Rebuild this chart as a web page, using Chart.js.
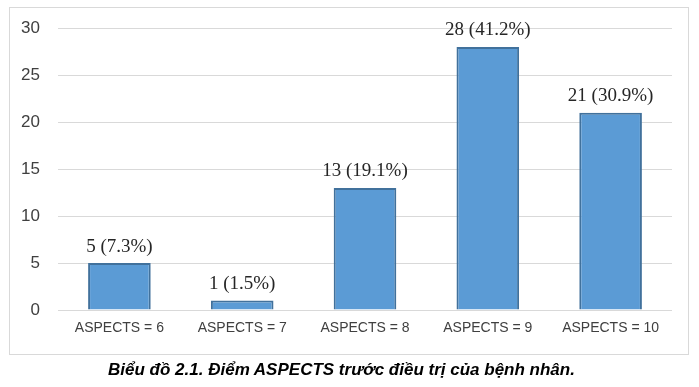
<!DOCTYPE html>
<html><head><meta charset="utf-8">
<script src="https://cdn.jsdelivr.net/npm/chart.js@4/dist/chart.umd.min.js"></script>
<style>
html,body{margin:0;padding:0;background:#fff;}
#wrap{position:relative;width:699px;height:387px;}
#frame{position:absolute;left:9px;top:7px;width:680px;height:348px;border:1px solid #d9d9d9;box-sizing:border-box;}
#c{position:absolute;left:0;top:0;}
#cap{position:absolute;left:0;width:683px;top:360px;text-align:center;font:italic bold 17px "Liberation Sans",Arial,sans-serif;color:#000;}
</style></head>
<body><div id="wrap"><div id="frame"></div><canvas id="c" width="699" height="387"></canvas>
<div id="cap">Biểu đồ 2.1. Điểm ASPECTS trước điều trị của bệnh nhân.</div></div>
<script>
const categories = ["ASPECTS = 6","ASPECTS = 7","ASPECTS = 8","ASPECTS = 9","ASPECTS = 10"];
const counts = [5, 1, 13, 28, 21];
const percents = ["7.3%","1.5%","19.1%","41.2%","30.9%"];
const yTicks = [0,5,10,15,20,25,30];

const labelPlugin = {
  id:'barLabels',
  afterDatasetsDraw(chart){
    const ctx = chart.ctx;
    const meta = chart.getDatasetMeta(0);
    ctx.save();
    ctx.font = '19px "Liberation Serif","Times New Roman",serif';
    ctx.fillStyle = '#262626';
    ctx.textAlign = 'center';
    ctx.textBaseline = 'bottom';
    meta.data.forEach((bar,i)=>{
      ctx.fillText(counts[i] + ' (' + percents[i] + ')', bar.x, bar.y - 7);
    });
    ctx.restore();
  }
};

new Chart(document.getElementById('c'),{
  type:'bar',
  data:{labels:categories,datasets:[{data:counts,backgroundColor:'#5b9bd5',borderColor:'#41719c',borderWidth:2,barPercentage:0.51,categoryPercentage:1.0}]},
  options:{
    responsive:false,animation:false,
    layout:{padding:{left:0,right:27,top:27,bottom:37}},
    plugins:{legend:{display:false},tooltip:{enabled:false}},
    scales:{
      y:{min:0,max:30,afterBuildTicks(s){s.ticks=yTicks.map(v=>({value:v}));},
         afterFit(s){s.width=58;},
         ticks:{padding:18,color:'#404040',font:{family:'"Liberation Sans",Arial,sans-serif',size:17}},
         grid:{color:'#d9d9d9',drawTicks:false},border:{display:false}},
      x:{afterFit(s){s.height=40;},
         ticks:{padding:10,color:'#404040',font:{family:'"Liberation Sans",Arial,sans-serif',size:14}},
         grid:{display:false,drawTicks:false},border:{display:false}}
    }
  },
  plugins:[labelPlugin]
});
</script></body></html>
